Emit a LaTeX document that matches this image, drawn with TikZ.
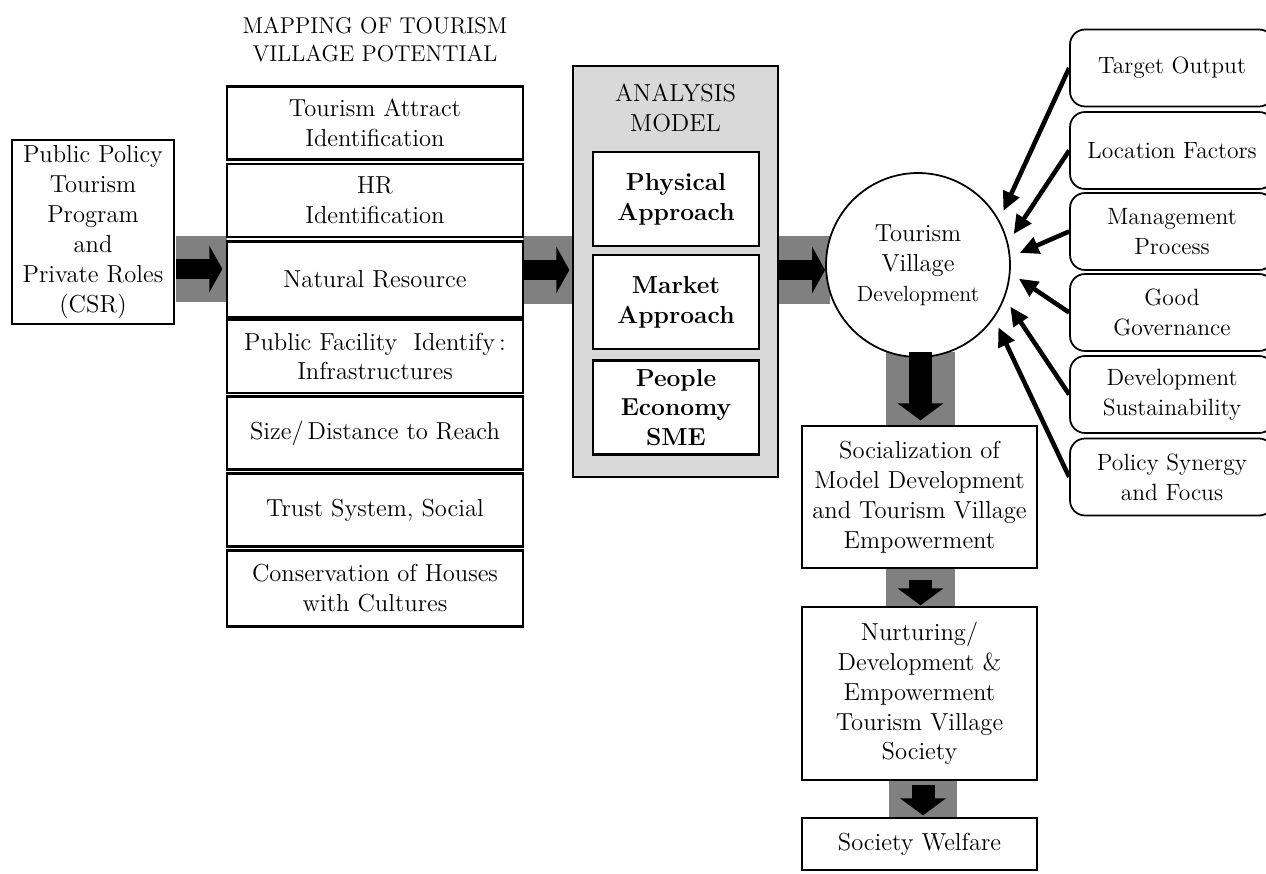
\documentclass[tikz,border=0pt]{standalone}
\usepackage{tikz}
\usetikzlibrary{positioning,arrows.meta}
\definecolor{padgray}{RGB}{128,128,128}
\definecolor{panelgray}{RGB}{217,217,217}

\begin{document}
\begin{tikzpicture}[
    x=0.02cm, y=-0.02cm,
    every node/.style={font=\fontsize{14}{17}\selectfont},
    srcbox/.style={draw, line width=1pt, minimum width=3.24cm, minimum height=3.58cm, align=center},
    mapbox/.style={draw, line width=1.2pt, fill=white, minimum width=5.92cm, minimum height=1.46cm, align=center},
    panel/.style={draw, line width=1pt, fill=panelgray, minimum width=4.1cm, minimum height=8.22cm},
    approach/.style={draw, line width=1.2pt, fill=white, minimum width=3.32cm, minimum height=1.88cm, align=center, font=\fontsize{14}{17}\selectfont\bfseries},
    factor/.style={draw, line width=1pt, rounded corners=0.3cm, minimum width=4.08cm, minimum height=1.54cm, align=center, font=\fontsize{13.4}{17}\selectfont},
    stage/.style={draw, line width=1pt, fill=white, minimum width=4.7cm, align=center},
    pad/.style={fill=padgray, inner sep=0pt},
    bigarr/.style={line width=0.4cm, -{Triangle[length=0.26cm, width=0.92cm]}},
    downarr/.style={line width=0.46cm, -{Triangle[length=0.34cm, width=0.9cm]}},
    thinarr/.style={line width=2.6pt, -{Triangle[length=0.38cm, width=0.34cm]}, shorten >=0.2cm}
]
\useasboundingbox (0,0) rectangle (1266,874);

% grey blocks behind the big arrows
\node[pad, minimum width=1.02cm, minimum height=1.32cm] (pad1) at (201.5,269) {};
\node[pad, minimum width=1.02cm, minimum height=1.36cm] (pad2) at (548.5,270) {};
\node[pad, minimum width=1.02cm, minimum height=1.36cm] (pad3) at (804.5,270) {};
\node[pad, minimum width=1.38cm, minimum height=1.48cm] (pad4) at (920.5,389) {};
\node[pad, minimum width=1.38cm, minimum height=0.78cm] (pad5) at (920.5,587.5) {};
\node[pad, minimum width=1.36cm, minimum height=0.76cm] (pad6) at (923,799) {};

% source
\node[srcbox] (policy) at (93,232) {Public Policy\\Tourism\\Program\\and\\Private Roles\\(CSR)};

% mapping column
\node[font=\fontsize{13}{16}\selectfont, align=center] (maptitle) at (375,40) {MAPPING OF TOURISM\\VILLAGE POTENTIAL};
\node[mapbox] (attract) at (375,123) {Tourism Attract\\Identification};
\node[mapbox] (hr) at (375,200.5) {HR\\Identification};
\node[mapbox, minimum height=1.52cm] (natural) at (375,279.5) {Natural Resource};
\node[mapbox] (facility) at (375,356.5) {Public Facility\ \ Identify\,:\\Infrastructures};
\node[mapbox] (size) at (375,433) {Size/\,Distance\ to Reach};
\node[mapbox] (trust) at (375,510) {Trust System, Social};
\node[mapbox, minimum height=1.52cm] (houses) at (375,588.5) {Conservation of Houses\\with Cultures};

% analysis model
\node[panel] (analysis) at (675.5,271.5) {};
\node[align=center] (antitle) at (675.5,108) {ANALYSIS\\MODEL};
\node[approach] (physical) at (676,199) {Physical\\Approach};
\node[approach] (market) at (676,302) {Market\\Approach};
\node[approach] (people) at (676,407.5) {People\\Economy\\SME};

% development
\node[circle, draw, line width=1pt, fill=white, minimum size=3.68cm, align=center] (village) at (918,265)
    {Tourism\\Village\\{\fontsize{12.5}{15}\selectfont Development}};

% factors
\node[factor] (output) at (1172,68) {Target Output};
\node[factor] (location) at (1172,150.5) {Location Factors};
\node[factor] (process) at (1172,231.5) {Management\\Process};
\node[factor] (governance) at (1172,312.5) {Good\\Governance};
\node[factor] (sustain) at (1172,394.5) {Development\\Sustainability};
\node[factor] (synergy) at (1172,477) {Policy Synergy\\and Focus};

% stages
\node[stage, minimum height=2.84cm] (social) at (919.5,497) {Socialization of\\Model Development\\and Tourism Village\\Empowerment};
\node[stage, minimum height=3.46cm] (nurture) at (919.5,693.5) {Nurturing/\\Development \&\\Empowerment\\Tourism Village\\Society};
\node[stage, minimum height=1.04cm] (welfare) at (919.5,844) {Society Welfare};

% big arrows
\draw[bigarr] (pad1.west) -- ([xshift=-0.1cm]pad1.east);
\draw[bigarr] (pad2.west) -- ([xshift=-0.1cm]pad2.east);
\draw[bigarr] (pad3.west) -- (pad3.west -| village.west);
\draw[downarr] (pad4.north) -- ([yshift=0.12cm]pad4.south);
\draw[downarr] ([yshift=-0.24cm]pad5.north) -- ([yshift=0.04cm]pad5.south);
\draw[downarr] ([yshift=-0.1cm]pad6.north) -- ([yshift=0.06cm]pad6.south);

% factor arrows
\draw[thinarr] (output.west) -- (village.29);
\draw[thinarr] (location.west) -- (village.14);
\draw[thinarr] (process.west) -- (village.5);
\draw[thinarr] (governance.west) -- (village.-5);
\draw[thinarr] (sustain.west) -- (village.-21);
\draw[thinarr] (synergy.west) -- (village.-35);

\end{tikzpicture}
\end{document}
